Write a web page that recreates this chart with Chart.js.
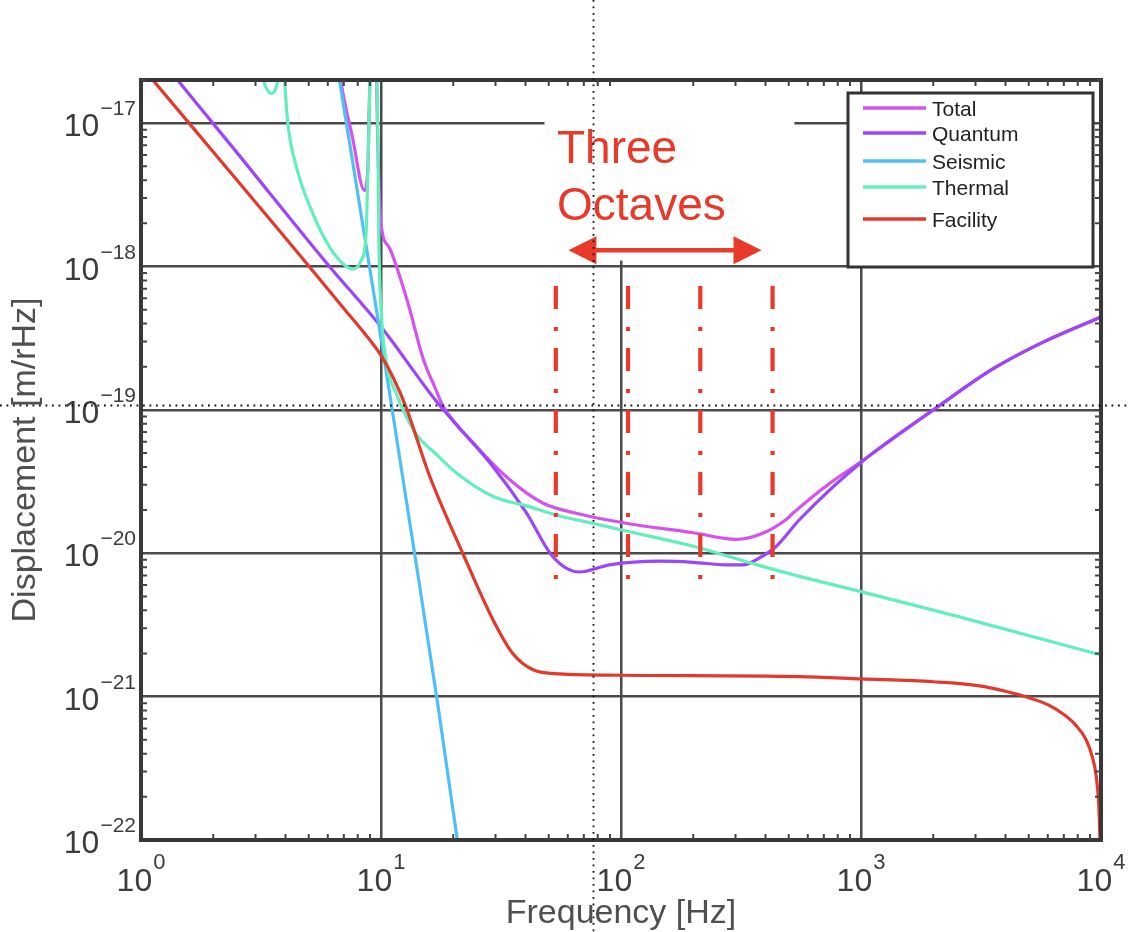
<!DOCTYPE html>
<html>
<head>
<meta charset="utf-8">
<title>Displacement noise</title>
<script src="https://cdn.jsdelivr.net/npm/chart.js@4.4.1/dist/chart.umd.min.js"></script>
<style>
  html, body { margin: 0; padding: 0; background: #fff; }
  canvas { display: block; }
</style>
</head>
<body>
<canvas id="myChart" width="1128" height="932"></canvas>
<script>
// noise curves: frequency [Hz] and displacement [m/rHz]
var totalFreq = [6.4, 6.92, 7.59, 8.53, 8.81, 8.95, 9.12, 9.49, 9.7, 10, 10.8, 11.6, 13.1, 14.9, 17, 18.1, 24.9, 34.3, 47.2, 65, 105, 200, 302, 378, 488, 520, 716, 1000, 2120, 3540, 5710, 10000];
var totalNoise = [4e-17, 1.66e-17, 8.1e-18, 3.4e-18, 4.8e-18, 1.5e-17, 4e-17, 4e-17, 7e-18, 2.0e-18, 1.37e-18, 1.0e-18, 5.2e-19, 2.34e-19, 1.36e-19, 1.07e-19, 5.6e-20, 3.27e-20, 2.24e-20, 1.9e-20, 1.62e-20, 1.39e-20, 1.25e-20, 1.35e-20, 1.72e-20, 1.9e-20, 2.95e-20, 4.35e-20, 1.07e-19, 1.93e-19, 2.96e-19, 4.45e-19];

var quantumFreq = [1, 1.42, 2.34, 6.1, 10, 17, 21.2, 29.2, 40.3, 51.9, 67, 89.5, 145, 199, 274, 322, 378, 444, 555, 1000, 2120, 3540, 5710, 10000];
var quantumNoise = [4.1e-17, 2.0e-17, 7.2e-18, 1.0e-18, 3.8e-19, 1.15e-19, 7.5e-20, 4.05e-20, 1.92e-20, 9.5e-21, 7.4e-21, 8.3e-21, 8.8e-21, 8.65e-21, 8.3e-21, 8.3e-21, 9.3e-21, 1.12e-20, 1.72e-20, 4.3e-20, 1.07e-19, 1.93e-19, 2.96e-19, 4.45e-19];

var seismicFreq = [6.31, 6.71, 10, 13.8, 17.3, 20.8, 22.4];
var seismicNoise = [3.8e-17, 2.0e-17, 3.16e-19, 1.0e-20, 8.5e-22, 1.0e-22, 4.5e-23];

var thermalFreq = [3.15, 3.25, 3.35, 3.5, 3.63, 3.72, 3.85, 3.96, 4.09, 4.44, 5.2, 6.1, 6.93, 7.64, 8.26, 8.67, 8.81, 8.95, 9.1, 9.45, 9.71, 9.8, 10, 10.5, 11.6, 14, 17, 21.2, 29.2, 40.3, 55.5, 76.2, 105, 200, 378, 555, 1000, 2570, 10000];
var thermalNoise = [3.5e-17, 2.0e-17, 1.72e-17, 1.61e-17, 1.72e-17, 2.0e-17, 3.5e-17, 2.0e-17, 1.0e-17, 4.95e-18, 2.34e-18, 1.37e-18, 1.05e-18, 9.6e-19, 1.1e-18, 1.7e-18, 4.5e-18, 1.3e-17, 4e-17, 4e-17, 7.6e-18, 1.5e-18, 5.2e-19, 2.2e-19, 1.29e-19, 6.8e-20, 4.9e-20, 3.5e-20, 2.5e-20, 2.14e-20, 1.82e-20, 1.62e-20, 1.43e-20, 1.12e-20, 8.2e-21, 6.9e-21, 5.4e-21, 3.6e-21, 1.95e-21];

var facilityFreq = [1, 1.12, 2, 4, 7, 8.5, 10, 11.3, 12.7, 15.9, 21.9, 29.2, 35.4, 43, 55.5, 100, 555, 1000, 2000, 3120, 4000, 5035, 6000, 6930, 7800, 8670, 9200, 9550, 9780, 9880, 9930];
var facilityNoise = [2.5e-17, 2.0e-17, 6.3e-18, 1.58e-18, 5.1e-19, 3.45e-19, 2.4e-19, 1.65e-19, 1.05e-19, 3.5e-20, 1.0e-20, 3.47e-21, 2.0e-21, 1.54e-21, 1.44e-21, 1.41e-21, 1.38e-21, 1.33e-21, 1.27e-21, 1.19e-21, 1.09e-21, 9.8e-22, 8.8e-22, 7.6e-22, 6.4e-22, 5.0e-22, 3.8e-22, 2.8e-22, 1.8e-22, 1.15e-22, 8e-23];

// octave markers and their vertical extent
var octaveFreqs = [53.5, 107, 214, 428];
var octaveTop = 7.3e-19;
var octaveBottom = 6.5e-21;

// tick labels (powers of ten)
var xTickExponents = [0, 1, 2, 3, 4];
var yTickExponents = [-17, -18, -19, -20, -21, -22];

var annotationRed = '#e8392b';
var fontFamily = "'Liberation Sans', Arial, Helvetica, sans-serif";

// annotation placement in data units
var textBoxFrom = 48, textBoxTo = 528, textBoxLevel = 1.1e-18;
var arrowFrom = 60.4, arrowTo = 385, arrowLevel = 1.3e-18;
var cursorFreq = 76.8, cursorLevel = 1.08e-19;

function isDecade(v) {
    var l = Math.log10(v);
    return Math.abs(l - Math.round(l)) < 1e-6;
}

function points(freq, vals) {
    return freq.map(function (f, i) { return { x: f, y: vals[i] }; });
}

function curve(label, color, freq, vals, order) {
    return {
        label: label,
        data: points(freq, vals),
        borderColor: color,
        backgroundColor: color,
        borderWidth: 3.2,
        pointRadius: 0,
        cubicInterpolationMode: 'monotone',
        order: order
    };
}

function octaveLine(f) {
    return {
        label: '',
        data: [{ x: f, y: octaveTop }, { x: f, y: octaveBottom }],
        borderColor: annotationRed,
        borderWidth: 4.2,
        borderDash: [23, 18, 4, 17],
        borderCapStyle: 'butt',
        pointRadius: 0,
        tension: 0,
        order: 0
    };
}

var datasets = [
    curve('Total', '#d652ee', totalFreq, totalNoise, 6),
    curve('Quantum', '#9b46fa', quantumFreq, quantumNoise, 5),
    curve('Seismic', '#4fc0f6', seismicFreq, seismicNoise, 4),
    curve('Thermal', '#62efbb', thermalFreq, thermalNoise, 3),
    curve('Facility', '#e3392c', facilityFreq, facilityNoise, 2)
];
octaveFreqs.forEach(function (f) { datasets.push(octaveLine(f)); });

var gridColor = function (s) {
    return s.tick && isDecade(s.tick.value) ? '#4a4a4a' : 'rgba(0,0,0,0)';
};

var decor = {
    id: 'decor',
    beforeDatasetsDraw: function (chart) {
        var c = chart.ctx, xs = chart.scales.x, ys = chart.scales.y, a = chart.chartArea;
        // blank space under the annotation text
        var l = xs.getPixelForValue(textBoxFrom), r = xs.getPixelForValue(textBoxTo);
        var b = ys.getPixelForValue(textBoxLevel);
        c.save();
        c.fillStyle = '#fff';
        c.fillRect(l, a.top + 2, r - l, b - a.top - 2);
        c.restore();
    },
    afterDraw: function (chart) {
        var c = chart.ctx, xs = chart.scales.x, ys = chart.scales.y, a = chart.chartArea;
        c.save();

        // box
        c.strokeStyle = '#383838';
        c.lineWidth = 4;
        c.strokeRect(a.left, a.top, a.right - a.left, a.bottom - a.top);

        // minor ticks, inside on all four sides
        c.lineWidth = 2;
        c.strokeStyle = '#444';
        var d, k, p;
        for (d = 0; d < 4; d++) {
            for (k = 2; k < 10; k++) {
                p = xs.getPixelForValue(k * Math.pow(10, d));
                c.beginPath();
                c.moveTo(p, a.bottom); c.lineTo(p, a.bottom - 6);
                c.moveTo(p, a.top); c.lineTo(p, a.top + 6);
                c.stroke();
            }
        }
        for (d = -22; d < -16; d++) {
            for (k = 2; k < 10; k++) {
                var v = k * Math.pow(10, d);
                if (v > ys.max) continue;
                p = ys.getPixelForValue(v);
                c.beginPath();
                c.moveTo(a.left, p); c.lineTo(a.left + 6, p);
                c.moveTo(a.right, p); c.lineTo(a.right - 6, p);
                c.stroke();
            }
        }

        // tick labels
        c.fillStyle = '#3c3c3c';
        c.textBaseline = 'alphabetic';
        xTickExponents.forEach(function (e) {
            var px = xs.getPixelForValue(Math.pow(10, e));
            c.font = '32px ' + fontFamily;
            var w1 = c.measureText('10').width;
            c.font = '22px ' + fontFamily;
            var w2 = c.measureText(String(e)).width;
            var x0 = px - (w1 + w2 + 1) / 2;
            c.textAlign = 'left';
            c.font = '32px ' + fontFamily;
            c.fillText('10', x0, a.bottom + 51);
            c.font = '22px ' + fontFamily;
            c.fillText(String(e), x0 + w1 + 1, a.bottom + 29);
        });
        yTickExponents.forEach(function (e) {
            var py = ys.getPixelForValue(Math.pow(10, e));
            var label = '\u2212' + Math.abs(e);
            c.textAlign = 'right';
            c.font = '21px ' + fontFamily;
            var w2 = c.measureText(label).width;
            c.fillText(label, a.left - 5, py - 8);
            c.font = '32px ' + fontFamily;
            c.fillText('10', a.left - 6 - w2, py + 13);
        });

        // axis titles
        c.fillStyle = '#505050';
        c.font = '34px ' + fontFamily;
        c.textAlign = 'center';
        c.fillText('Frequency [Hz]', xs.getPixelForValue(100), 923);
        c.save();
        c.translate(35, 460);
        c.rotate(-Math.PI / 2);
        c.fillText('Displacement [m/rHz]', 0, 0);
        c.restore();

        // legend
        c.fillStyle = '#fff';
        c.fillRect(848, 93, 245, 174);
        c.strokeStyle = '#333';
        c.lineWidth = 3;
        c.strokeRect(848, 93, 245, 174);
        var rows = [108, 133, 161, 187, 219];
        c.font = '21px ' + fontFamily;
        c.textAlign = 'left';
        chart.data.datasets.slice(0, 5).forEach(function (ds, i) {
            c.strokeStyle = ds.borderColor;
            c.lineWidth = 3.5;
            c.beginPath();
            c.moveTo(863, rows[i]);
            c.lineTo(926, rows[i]);
            c.stroke();
            c.fillStyle = '#222';
            c.fillText(ds.label, 932, rows[i] + 8);
        });

        // annotation
        c.fillStyle = annotationRed;
        c.font = '46px ' + fontFamily;
        c.fillText('Three', 557, 163);
        c.fillText('Octaves', 557, 220);
        var ax1 = xs.getPixelForValue(arrowFrom), ax2 = xs.getPixelForValue(arrowTo);
        var ay = ys.getPixelForValue(arrowLevel);
        c.strokeStyle = annotationRed;
        c.lineWidth = 4.5;
        c.beginPath();
        c.moveTo(ax1 + 20, ay);
        c.lineTo(ax2 - 20, ay);
        c.stroke();
        c.beginPath();
        c.moveTo(ax1, ay); c.lineTo(ax1 + 28, ay - 14); c.lineTo(ax1 + 28, ay + 14); c.closePath();
        c.fill();
        c.beginPath();
        c.moveTo(ax2, ay); c.lineTo(ax2 - 28, ay - 14); c.lineTo(ax2 - 28, ay + 14); c.closePath();
        c.fill();

        // cursor cross
        var cx = Math.round(xs.getPixelForValue(cursorFreq)) + 0.5;
        var cy = Math.round(ys.getPixelForValue(cursorLevel)) + 0.5;
        c.strokeStyle = '#111';
        c.lineWidth = 1.8;
        c.setLineDash([1.8, 4.7]);
        c.beginPath();
        c.moveTo(cx, 0); c.lineTo(cx, chart.height);
        c.moveTo(0, cy); c.lineTo(chart.width, cy);
        c.stroke();

        c.restore();
    }
};

var ctx = document.getElementById('myChart').getContext('2d');
var chart = new Chart(ctx, {
    type: 'line',
    data: { datasets: datasets },
    options: {
        responsive: false,
        animation: false,
        layout: { padding: { left: 141, right: 27, top: 80, bottom: 92 } },
        plugins: { legend: { display: false }, tooltip: { enabled: false } },
        scales: {
            x: {
                type: 'logarithmic',
                min: 1,
                max: 1e4,
                ticks: { display: false },
                border: { display: false },
                grid: { drawTicks: false, lineWidth: 2.5, color: gridColor },
                afterFit: function (s) { s.height = 0; }
            },
            y: {
                type: 'logarithmic',
                min: 1e-22,
                max: 2e-17,
                ticks: { display: false },
                border: { display: false },
                grid: { drawTicks: false, lineWidth: 2.5, color: gridColor },
                afterFit: function (s) { s.width = 0; }
            }
        }
    },
    plugins: [decor]
});
</script>
</body>
</html>
